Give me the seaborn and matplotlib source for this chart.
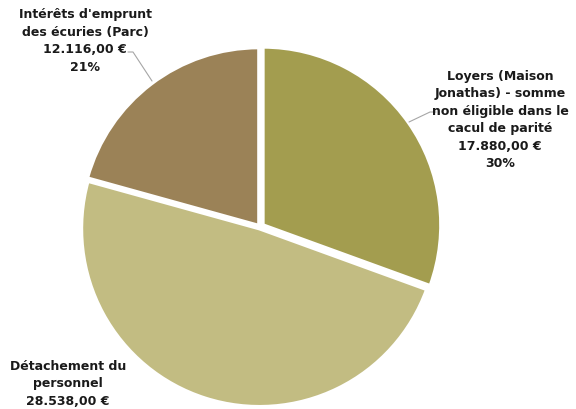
import matplotlib
matplotlib.use("Agg")
import matplotlib.pyplot as plt
import seaborn as sns

labels = ["Loyers (Maison\nJonathas) - somme\nnon éligible dans le\ncacul de parité",
          "Détachement du\npersonnel",
          "Intérêts d'emprunt\ndes écuries (Parc)"]
amounts = [17880.00, 28538.00, 12116.00]
amount_text = ["17.880,00 €", "28.538,00 €", "12.116,00 €"]
# the percentage of the bottom slice falls outside the picture in the reference
pct_text = ["30%", "", "21%"]

colors = ["#A39D4F", "#C2BC82", "#9B8257"]

sns.set_theme(style="white")
plt.rcParams['font.family'] = ['DejaVu Sans']

fig = plt.figure(figsize=(5.76, 4.10), dpi=100)
ax = fig.add_axes([0, 0, 1, 1])

wedges, _ = ax.pie(amounts, colors=colors, startangle=90, counterclock=False,
                   radius=1.0, explode=[0.02, 0.01, 0.01],
                   wedgeprops=dict(edgecolor='white', linewidth=2.5))

# 1 data unit = 178 px, pie centre at pixel (260, 228)
S = 178.0
CX, CY = 260, 228
ax.set_xlim(-CX / S, (576 - CX) / S)
ax.set_ylim(-(410 - CY) / S, CY / S)
ax.set_aspect('equal')
ax.axis('off')

def px(x, y):
    return ((x - CX) / S, (CY - y) / S)

label_pos = [px(500, 120), px(68, 384), px(85, 41)]
for lab, amt, pct, pos in zip(labels, amount_text, pct_text, label_pos):
    txt = f"{lab}\n{amt}" + (f"\n{pct}" if pct else "")
    ax.text(pos[0], pos[1], txt, ha='center', va='center',
            fontsize=9, fontweight='bold', color='#1a1a1a', linespacing=1.45)

# leader lines
for pts in ([px(409, 123), px(430, 113), px(436, 113)],
            [px(152, 82), px(133, 53), px(128, 53)]):
    xs, ys = zip(*pts)
    ax.plot(xs, ys, color='#A6A6A6', linewidth=0.8)

fig.savefig("out.png", dpi=100)
